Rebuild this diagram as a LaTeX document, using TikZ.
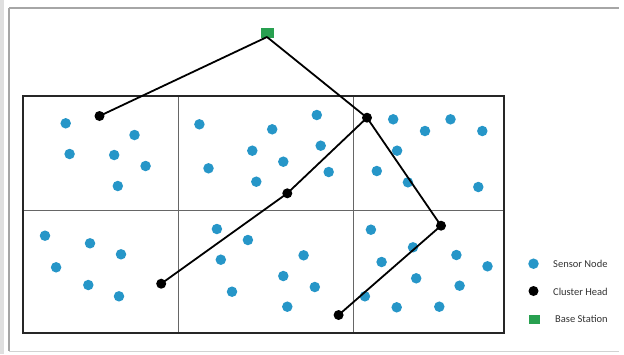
\documentclass[tikz,border=0pt]{standalone}
\usepackage{fontspec}
\setmainfont{Carlito}
\begin{document}
\begin{tikzpicture}[x=1pt,y=-1pt,
  sensor/.style={circle,fill=sensorblue,inner sep=0pt,minimum size=10.5pt},
  chead/.style={circle,fill=black,inner sep=0pt,minimum size=10pt},
  bstation/.style={rectangle,fill=bsgreen,inner sep=0pt,minimum width=13pt,minimum height=10pt},
  link/.style={black,line width=1.8pt},
  grid/.style={gray!80!black,line width=0.7pt},
  legtext/.style={anchor=west,font=\fontsize{10.5}{12}\selectfont,text=black!80,inner sep=0pt}]
\definecolor{sensorblue}{RGB}{38,150,200}
\definecolor{bsgreen}{RGB}{40,160,80}
\useasboundingbox (0,0) rectangle (624,354);
\fill[white] (0,0) rectangle (624,354);
\fill[gray!25] (0,0) rectangle (4,354);
\draw[gray!70,line width=1.5pt] (9,8) -- (619,8);
\draw[gray!70,line width=1.5pt] (9,8) -- (9,351);
\draw[gray!35,line width=1pt] (9,351) -- (619,351);
% grid
\draw[grid] (178,96) -- (178,333);
\draw[grid] (353,96) -- (353,333);
\draw[grid] (23,210) -- (504,210);
\draw[black!85,line width=2.4pt] (23,96) rectangle (504,333);
% sensor nodes
\foreach \px/\py [count=\i] in {65.7/123.3,134.5/135,69.6/154,114.2/155,145.6/166,117.8/186,
  199.4/124.3,272.2/129.3,316.8/115,252.3/150.7,320.7/145.7,283.3/161.7,208.5/168.3,328.7/172,256.3/181.7,
  393.2/119.3,425/131,450.5/119.3,482.3/131,397.1/150.7,376.8/171,407.9/182.3,478.3/187,
  45/235.7,90/243.3,121/254.3,56.1/267.3,88.3/285,119/296.3,
  216.9/229,247.9/240,220.8/259.7,303.6/255.3,283.3/276,314.8/287,232/291.7,287.3/306.7,
  370.9/229.7,413/247.3,456.4/255,381.6/262,487.5/266.3,416.2/278.3,459.6/285.7,364.9/296.3,396.7/307.3,439.3/306.7}
  \node[sensor] (s\i) at (\px,\py) {};
% base station and cluster heads
\node[bstation] (bs) at (267.5,33.3) {};
\coordinate (bsb) at (267,37);
\node[chead] (c1) at (99.5,116) {};
\node[chead] (c2) at (367,117.7) {};
\node[chead] (c3) at (287.3,193.3) {};
\node[chead] (c4) at (441,225.7) {};
\node[chead] (c5) at (161.2,283.7) {};
\node[chead] (c6) at (338.6,315) {};
\draw[link] (bsb) -- (c1.center);
\draw[link] (bsb) -- (c2.center) -- (c4.center) -- (c6.center);
\draw[link] (c2.center) -- (c3.center) -- (c5.center);
% legend
\node[sensor] (ls) at (533.5,263.7) {};
\node[chead] (lc) at (533.5,291) {};
\node[bstation,minimum width=11pt,minimum height=9pt] (lb) at (534,319) {};
\node[legtext] (lst) at (553,264) {Sensor Node};
\node[legtext] (lct) at (553,292) {Cluster Head};
\node[legtext] (lbt) at (555,319) {Base Station};
\end{tikzpicture}
\end{document}
